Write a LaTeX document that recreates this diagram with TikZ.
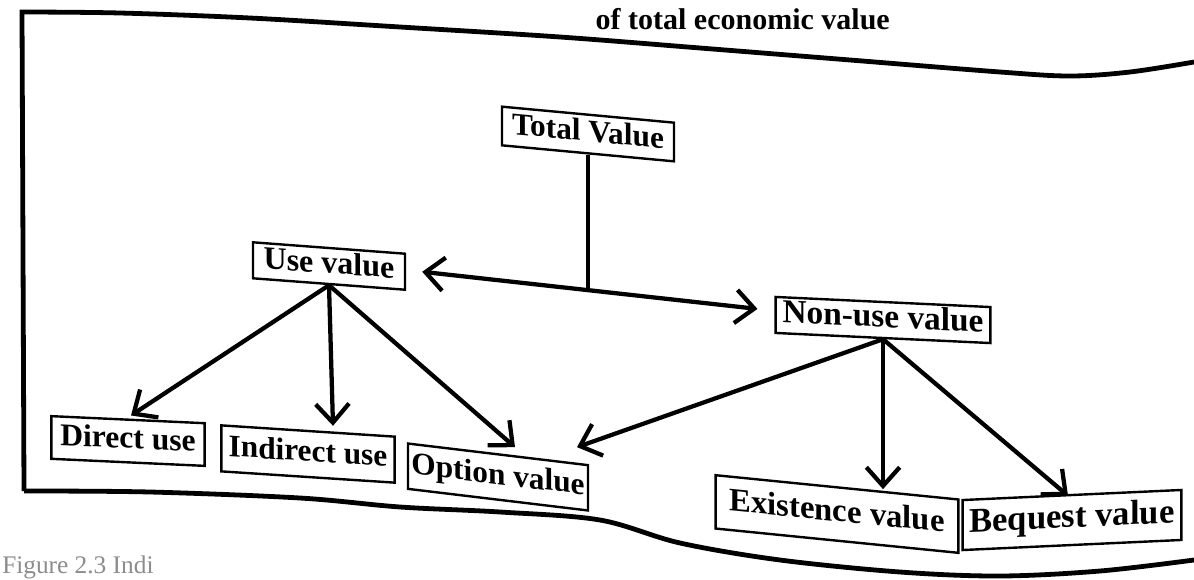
\documentclass[tikz,border=0pt]{standalone}
\usepackage{fontspec}
\setmainfont{Liberation Serif}
\usetikzlibrary{arrows.meta,calc}
\begin{document}
\begin{tikzpicture}[x=0.75pt,y=-0.75pt,
  barb/.tip={Straight Barb[length=14pt,width=25pt]},
  box/.style={draw, line width=1.8pt, transform shape, inner sep=0pt, text height=16pt, text depth=5pt},
  fs/.style={font=\bfseries\fontsize{#1}{#1}\selectfont},
  conn/.style={line width=3.2pt, -barb},
  dconn/.style={line width=3.2pt, barb-barb},
  stem/.style={line width=3.2pt},
  frame/.style={line width=3.6pt, line join=miter}]
\useasboundingbox (0,0) rectangle (1194,579);
\clip (0,0) rectangle (1194,579);

% frame
\draw[frame] (24,491) -- (22,12) -- plot[smooth, tension=0.55] coordinates {(22,12) (120,13) (250,18) (400,27) (560,37) (700,48) (850,60) (1000,72) (1070,76) (1130,72) (1194,62)};
\draw[frame] plot[smooth, tension=0.55] coordinates {(24,491) (150,492) (300,498) (400,507) (500,512) (600,520) (680,543) (780,560) (900,572) (1000,576) (1100,571) (1194,560)};

% title and caption
\node[fs=22.5, anchor=base east, inner sep=0pt] (title) at (890,29) {of total economic value};
\node[font=\fontsize{19}{19}\selectfont, text=black!45, anchor=base west, inner sep=0pt] (cap) at (2,573) {Figure 2.3 Indi};

% nodes
\node[box, fs=23.5, yslant=-0.093, minimum width=129pt, minimum height=29pt] (tv) at (588,134) {Total Value};
\node[box, fs=24, yslant=-0.075, minimum width=114pt, minimum height=27pt] (use) at (329,266) {Use value};
\node[box, fs=25, yslant=-0.047, minimum width=161pt, minimum height=27pt] (nonuse) at (883,320) {Non-use value};
\node[box, fs=23.7, yslant=-0.046, minimum width=115pt, minimum height=32pt] (direct) at (128,441) {Direct use};
\node[box, fs=23.5, yslant=-0.065, minimum width=130pt, minimum height=34.5pt] (indirect) at (308,454) {Indirect use};
\node[box, fs=23.5, yslant=-0.12, minimum width=135pt, minimum height=34pt] (option) at (498,477) {Option value};
\node[box, fs=24.5, yslant=-0.10, minimum width=182pt, minimum height=40pt] (exist) at (837,514) {Existence value};
\node[box, fs=26, yslant=0.046, minimum width=164pt, minimum height=37.5pt] (bequest) at (1072,520) {Bequest value};

% double arrow and stem
\coordinate (tl) at ($(use.east)+(16,0)$);
\coordinate (tr) at ($(nonuse.west)+(-17,-6)$);
\coordinate (j) at ($(tl)!0.5!(tr)$);
\draw[dconn] (tl) -- (tr);
\draw[stem] (tv.south) -- (tv.south |- j);

% use value branches
\draw[conn] (use.south) -- ($(direct.north)+(3,-3)$);
\draw[conn] (use.south) -- ($(indirect.north)+(25,-4)$);
\draw[conn] (use.south) -- ($(option.north)+(17,-6)$);

% non-use value branches
\draw[conn] (nonuse.south) -- ($(option.north)+(79,-6)$);
\draw[conn] (nonuse.south) -- ($(exist.north)+(46,3)$);
\draw[conn] (nonuse.south) -- ($(bequest.north)+(-4,2)$);
\end{tikzpicture}
\end{document}
